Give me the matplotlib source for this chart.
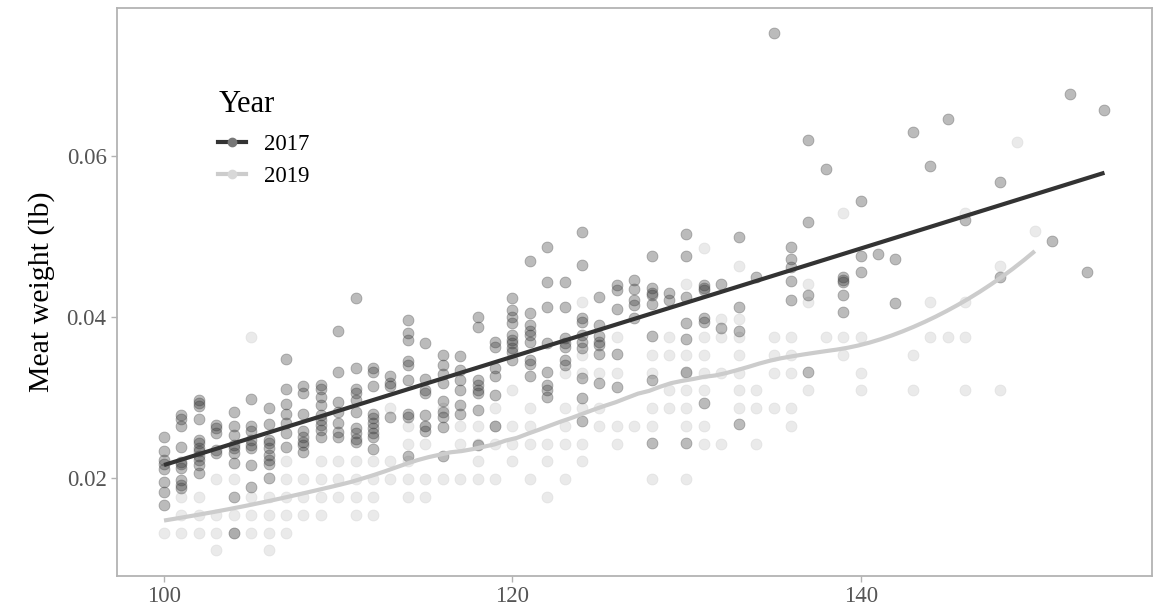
import numpy as np
import matplotlib
matplotlib.use("Agg")
import matplotlib.pyplot as plt
from matplotlib.lines import Line2D

# --- DATA ---
# 2017: meat weight (lb) for each shell length
lengths_2017 = [100, 101, 102, 103, 104, 105, 106, 107, 108, 109, 110, 111, 112, 113,
                114, 115, 116, 117, 118, 119, 120, 121, 122, 123, 124, 125, 126, 127,
                128, 129, 130, 131, 132, 133, 134, 135, 136, 137, 138, 139, 140, 141,
                142, 143, 144, 145, 146, 148, 151, 152, 153, 154]
weights_2017 = [
    [0.0251, 0.0234, 0.0222, 0.0217, 0.0211, 0.0195, 0.0182, 0.0167],
    [0.0278, 0.0273, 0.0264, 0.0238, 0.0220, 0.0217, 0.0212, 0.0198, 0.0191, 0.0187],
    [0.0297, 0.0293, 0.0289, 0.0273, 0.0247, 0.0243, 0.0237, 0.0233, 0.0227, 0.0222, 0.0216, 0.0206],
    [0.0266, 0.0262, 0.0256, 0.0235, 0.0231],
    [0.0282, 0.0265, 0.0253, 0.0241, 0.0237, 0.0231, 0.0218, 0.0176, 0.0132],
    [0.0298, 0.0264, 0.0258, 0.0247, 0.0241, 0.0237, 0.0216, 0.0189],
    [0.0287, 0.0267, 0.0247, 0.0243, 0.0237, 0.0229, 0.0222, 0.0217, 0.0200],
    [0.0348, 0.0311, 0.0292, 0.0280, 0.0268, 0.0256, 0.0238],
    [0.0314, 0.0305, 0.0280, 0.0258, 0.0251, 0.0245, 0.0241, 0.0232],
    [0.0316, 0.0311, 0.0301, 0.0291, 0.0278, 0.0272, 0.0266, 0.0260, 0.0251],
    [0.0382, 0.0331, 0.0294, 0.0282, 0.0268, 0.0257, 0.0251],
    [0.0423, 0.0337, 0.0311, 0.0305, 0.0297, 0.0282, 0.0262, 0.0256, 0.0249, 0.0245],
    [0.0336, 0.0332, 0.0314, 0.0280, 0.0274, 0.0268, 0.0262, 0.0256, 0.0251, 0.0236],
    [0.0326, 0.0318, 0.0314, 0.0276],
    [0.0396, 0.0380, 0.0371, 0.0345, 0.0340, 0.0322, 0.0280, 0.0276, 0.0227],
    [0.0367, 0.0323, 0.0309, 0.0305, 0.0278, 0.0264, 0.0258],
    [0.0353, 0.0340, 0.0329, 0.0318, 0.0295, 0.0282, 0.0276, 0.0263, 0.0227],
    [0.0352, 0.0334, 0.0322, 0.0309, 0.0291, 0.0280],
    [0.0400, 0.0388, 0.0322, 0.0316, 0.0309, 0.0305, 0.0285, 0.0241],
    [0.0369, 0.0363, 0.0336, 0.0326, 0.0303, 0.0264],
    [0.0423, 0.0409, 0.0400, 0.0392, 0.0378, 0.0371, 0.0367, 0.0361, 0.0357, 0.0347],
    [0.0470, 0.0405, 0.0390, 0.0382, 0.0378, 0.0369, 0.0347, 0.0342, 0.0326],
    [0.0487, 0.0443, 0.0412, 0.0367, 0.0332, 0.0316, 0.0309, 0.0301],
    [0.0443, 0.0412, 0.0374, 0.0367, 0.0363, 0.0347, 0.0340],
    [0.0505, 0.0465, 0.0398, 0.0394, 0.0378, 0.0369, 0.0361, 0.0324, 0.0299, 0.0271],
    [0.0425, 0.0390, 0.0376, 0.0369, 0.0365, 0.0354, 0.0318],
    [0.0440, 0.0434, 0.0410, 0.0354, 0.0313],
    [0.0446, 0.0435, 0.0421, 0.0415, 0.0398],
    [0.0476, 0.0436, 0.0430, 0.0427, 0.0416, 0.0376, 0.0322, 0.0244],
    [0.0430, 0.0421],
    [0.0503, 0.0476, 0.0425, 0.0392, 0.0373, 0.0332, 0.0244],
    [0.0440, 0.0436, 0.0434, 0.0398, 0.0394, 0.0293],
    [0.0441, 0.0386],
    [0.0499, 0.0412, 0.0383, 0.0267],
    [0.0450],
    [0.0753],
    [0.0487, 0.0472, 0.0462, 0.0445, 0.0421],
    [0.0619, 0.0518, 0.0427, 0.0331],
    [0.0584],
    [0.0450, 0.0446, 0.0443, 0.0427, 0.0406],
    [0.0544, 0.0475, 0.0456],
    [0.0478],
    [0.0472, 0.0417],
    [0.0630],
    [0.0587],
    [0.0646],
    [0.0520],
    [0.0568, 0.0450],
    [0.0494],
    [0.0677],
    [0.0456],
    [0.0657],
]

# 2019: meat weight recorded in whole grams for each shell length
lengths_2019 = [100, 101, 102, 103, 104, 105, 106, 107, 108, 109, 110, 111, 112, 113,
                114, 115, 116, 117, 118, 119, 120, 121, 122, 123, 124, 125, 126, 127,
                128, 129, 130, 131, 132, 133, 134, 135, 136, 137, 138, 139, 140, 143,
                144, 145, 146, 148, 149, 150]
grams_2019 = [
    [6], [8, 7, 6], [8, 7, 6], [9, 7, 6, 5], [9, 7, 6], [17, 8, 7, 6], [8, 7, 6, 5],
    [10, 9, 8, 7, 6], [9, 8, 7], [10, 9, 8, 7], [10, 9, 8], [10, 9, 8, 7], [10, 9, 8, 7],
    [13, 10, 9], [12, 11, 10, 9, 8], [12, 11, 9, 8], [13, 9], [12, 11, 9], [12, 11, 10, 9],
    [13, 12, 11, 9], [14, 12, 11, 10], [13, 12, 11, 9], [11, 10, 8], [15, 13, 12, 11, 9],
    [19, 16, 15, 13, 11, 10], [15, 13, 12], [17, 15, 12, 11], [12], [16, 15, 13, 12, 9],
    [17, 16, 14, 13], [20, 16, 15, 14, 13, 12, 9], [22, 17, 16, 15, 14, 12, 11],
    [18, 17, 15, 11], [21, 18, 17, 16, 15, 14, 13], [14, 13, 11], [17, 16, 15, 13],
    [17, 16, 15, 13, 12], [20, 19, 14], [17], [24, 17, 16], [17, 15, 14], [16, 14],
    [19, 17], [17], [24, 19, 17, 14], [21, 14], [28], [23],
]

GRAMS_PER_LB = 453.592

x17 = np.repeat(lengths_2017, [len(w) for w in weights_2017]).astype(float)
y17 = np.concatenate(weights_2017)
x19 = np.repeat(lengths_2019, [len(g) for g in grams_2019]).astype(float)
y19 = np.concatenate(grams_2019) / GRAMS_PER_LB


# --- SMOOTHERS (lm for 2017, local quadratic loess for 2019) ---
def loess(x, y, x_new, span=0.75):
    n = len(x)
    q = int(np.floor(n * span))
    out = []
    for x0 in x_new:
        d = np.abs(x - x0)
        dmax = np.sort(d)[q - 1]
        w = np.clip(1 - (d / dmax) ** 3, 0, None) ** 3
        X = np.column_stack([np.ones(n), x - x0, (x - x0) ** 2])
        W = np.sqrt(w)
        beta = np.linalg.lstsq(X * W[:, None], y * W, rcond=None)[0]
        out.append(beta[0])
    return np.array(out)


grid17 = np.linspace(x17.min(), x17.max(), 80)
fit17 = np.polyval(np.polyfit(x17, y17, 1), grid17)
grid19 = np.linspace(x19.min(), x19.max(), 80)
fit19 = loess(x19, y19, grid19, span=0.45)

# --- PLOT ---
plt.rcParams["font.family"] = ["Liberation Serif", "DejaVu Serif"]

dark, light = "#333333", "#cccccc"

fig = plt.figure(figsize=(11.53, 6.13), dpi=100)
ax = fig.add_axes([117 / 1153, 37 / 613, 1034.5 / 1153, 568 / 613])

ax.scatter(x19, y19, s=62, color=light, alpha=0.4, edgecolors=light, linewidths=0.6, zorder=2)
ax.scatter(x17, y17, s=62, color=dark, alpha=0.33, edgecolors=dark, linewidths=0.6, zorder=3)
ax.plot(grid19, fit19, color=light, linewidth=3, solid_capstyle="butt", zorder=4)
ax.plot(grid17, fit17, color=dark, linewidth=3, solid_capstyle="butt", zorder=5)

ax.set_xlim(97.3, 156.7)
ax.set_ylim(0.00783, 0.07835)
ax.set_xticks([100, 120, 140])
ax.set_yticks([0.02, 0.04, 0.06])
ax.set_yticklabels(["0.02", "0.04", "0.06"])
ax.set_ylabel("Meat weight (lb)", fontsize=21.5, labelpad=8)

for side in ["top", "left", "bottom", "right"]:
    ax.spines[side].set_color("#b3b3b3")
    ax.spines[side].set_linewidth(1.3)
ax.tick_params(axis="both", colors="#b3b3b3", labelcolor="#555555", labelsize=16.5,
               length=4, width=1)

handles = [
    Line2D([], [], color=dark, linewidth=3, marker="o", markersize=6,
           markerfacecolor="#777777", markeredgecolor="#777777"),
    Line2D([], [], color=light, linewidth=3, marker="o", markersize=6,
           markerfacecolor="#d8d8d8", markeredgecolor="#d8d8d8"),
]
leg = ax.legend(handles, ["2017", "2019"], title="Year", loc="upper left",
                bbox_to_anchor=(0.078, 0.892), frameon=False, fontsize=16.5,
                title_fontsize=22, handlelength=1.2, handletextpad=0.8,
                labelspacing=0.45)
leg._legend_box.align = "left"
leg._legend_box.sep = 11

fig.savefig("out.png", dpi=100)
